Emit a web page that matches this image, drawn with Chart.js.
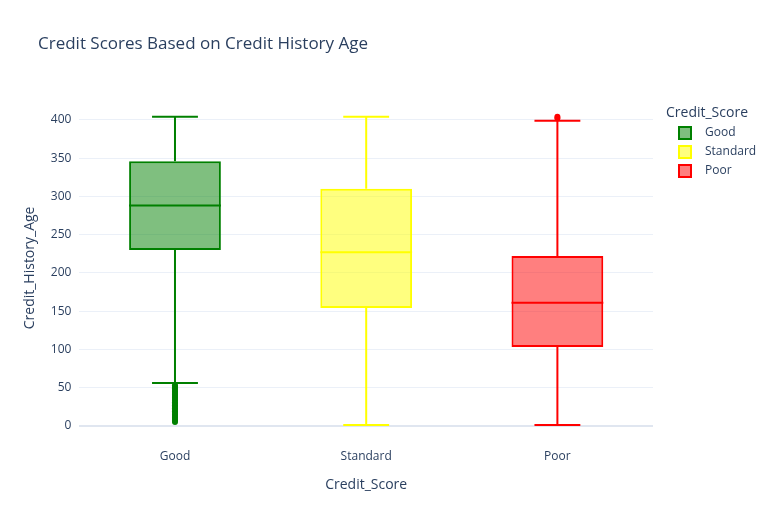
<!DOCTYPE html>
<html><head><meta charset="utf-8">
<script src="https://cdn.jsdelivr.net/npm/chart.js@4/dist/chart.umd.min.js"></script>
<style>html,body{margin:0;background:#fff}#w{width:777px;height:525px;position:relative}</style>
</head><body><div id="w"><canvas id="c"></canvas></div>
<script>
const categories=['Good','Standard','Poor'];
const lowerWhisker=[56,1,1];
const q1=[230,154,103];
const median=[288,227,161];
const q3=[346,310,222];
const upperWhisker=[404,404,399];
const outliers=[[5,7,9,11,13,15,17,19,21,23,25,27,29,31,33,35,37,39,41,43,45,47,49,51,53],[],[402,404]];
const lineColors=['green','yellow','red'];
const fillColors=['rgba(0,128,0,0.5)','rgba(255,255,0,0.5)','rgba(255,0,0,0.5)'];
const yTicks=[0,50,100,150,200,250,300,350,400];
const F='"Open Sans", Arial, sans-serif';
const boxPlugin={id:'box',afterDatasetsDraw(chart){
 const ctx=chart.ctx,ys=chart.scales.y;
 categories.forEach((c,i)=>{
  const bar=chart.getDatasetMeta(i).data[0];if(!bar)return;
  const cx=bar.x,hw=bar.width/2,cw=hw/2;
  ctx.save();ctx.strokeStyle=lineColors[i];ctx.lineWidth=2;
  ctx.beginPath();
  ctx.moveTo(cx-hw,ys.getPixelForValue(median[i]));ctx.lineTo(cx+hw,ys.getPixelForValue(median[i]));
  ctx.moveTo(cx,ys.getPixelForValue(q3[i]));ctx.lineTo(cx,ys.getPixelForValue(upperWhisker[i]));
  ctx.moveTo(cx,ys.getPixelForValue(q1[i]));ctx.lineTo(cx,ys.getPixelForValue(lowerWhisker[i]));
  ctx.moveTo(cx-cw,ys.getPixelForValue(upperWhisker[i]));ctx.lineTo(cx+cw,ys.getPixelForValue(upperWhisker[i]));
  ctx.moveTo(cx-cw,ys.getPixelForValue(lowerWhisker[i]));ctx.lineTo(cx+cw,ys.getPixelForValue(lowerWhisker[i]));
  ctx.stroke();
  ctx.fillStyle=lineColors[i];
  outliers[i].forEach(v=>{ctx.beginPath();ctx.arc(cx,ys.getPixelForValue(v),3,0,Math.PI*2);ctx.fill();});
  ctx.restore();
 });
},afterDraw(chart){
 const ctx=chart.ctx;ctx.save();
 ctx.fillStyle='#2a3f5f';ctx.textBaseline='middle';
 ctx.font='17px '+F;ctx.fillText('Credit Scores Based on Credit History Age',38,44);
 ctx.font='14px '+F;ctx.fillText('Credit_Score',666,113);
 ctx.font='12px '+F;
 categories.forEach((c,i)=>{const y=133+i*19;
  ctx.fillStyle=fillColors[i];ctx.strokeStyle=lineColors[i];ctx.lineWidth=2;
  ctx.fillRect(679,y-6,12,12);ctx.strokeRect(679,y-6,12,12);
  ctx.fillStyle='#2a3f5f';ctx.fillText(c,705,y);});
 ctx.restore();
}};
new Chart(document.getElementById('c'),{type:'bar',
 data:{labels:categories,datasets:categories.map((c,i)=>({label:c,data:[{x:c,y:[q1[i],q3[i]]}],
  backgroundColor:fillColors[i],borderColor:lineColors[i],borderWidth:2,borderSkipped:false,
  barPercentage:0.48,categoryPercentage:1,grouped:false}))},
 options:{responsive:true,maintainAspectRatio:false,animation:false,
  layout:{padding:{left:18,right:124,top:100,bottom:28}},
  plugins:{legend:{display:false},tooltip:{enabled:false}},
  scales:{x:{grid:{display:false},border:{display:false},ticks:{color:'#2a3f5f',font:{family:F,size:12},padding:6},
    title:{display:true,text:'Credit_Score',color:'#2a3f5f',font:{family:F,size:14},padding:{top:6}}},
   y:{min:-13,max:426,afterBuildTicks(s){s.ticks=yTicks.map(v=>({value:v}));},
    grid:{color:c=>c.tick&&c.tick.value===0?'#e0e6f0':'#ebf0f8',lineWidth:c=>c.tick&&c.tick.value===0?2:1,drawTicks:false},border:{display:false},
    ticks:{color:'#2a3f5f',font:{family:F,size:12},padding:8},
    title:{display:true,text:'Credit_History_Age',color:'#2a3f5f',font:{family:F,size:14}}}}},
 plugins:[boxPlugin]});
</script></body></html>
